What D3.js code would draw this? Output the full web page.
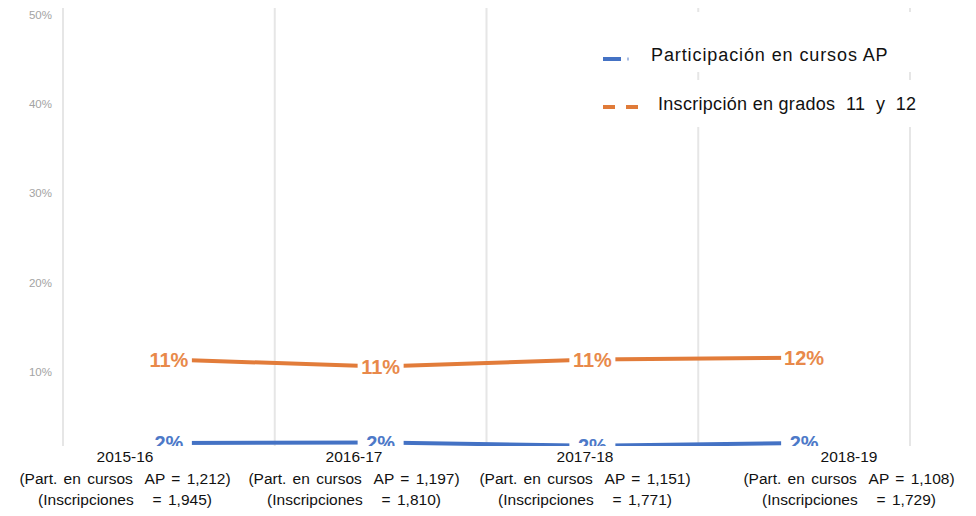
<!DOCTYPE html>
<html><head><meta charset="utf-8">
<script src="https://cdn.jsdelivr.net/npm/d3@7"></script>
<style>body{margin:0;background:#fff}svg{display:block}</style>
</head><body>
<svg id="c" width="976" height="516"></svg>
<script>
const categories = ["2015-16","2016-17","2017-18","2018-19"];
const apCounts = ["1,212","1,197","1,151","1,108"];
const enrollCounts = ["1,945","1,810","1,771","1,729"];
const apParticipation = [0.0205, 0.021, 0.0175, 0.0205];
const enrollment11_12 = [0.114, 0.106, 0.114, 0.116];
const yTicks = [0.1, 0.2, 0.3, 0.4, 0.5];
const seriesNames = ["Participación en cursos AP", "Inscripción en grados  11  y  12"];

const svg = d3.select("#c");
const x = d3.scaleBand().domain(categories).range([63, 910]).padding(0);
const y = d3.scaleLinear().domain([0, 0.5]).range([461.3, 14.7]);
const xLabel = d3.scaleOrdinal().domain(categories).range([125, 354, 585, 849]);
const FONT = "Liberation Sans, Arial, sans-serif";

// vertical gridlines
const gridX = categories.map(c => x(c)).concat([x.range()[1]]);
svg.append("g").selectAll("line").data(gridX).join("line")
  .attr("x1", d => d).attr("x2", d => d).attr("y1", 8).attr("y2", 446)
  .attr("stroke", "#e6e6e6").attr("stroke-width", 2);

// y axis labels
svg.append("g").selectAll("text").data(yTicks).join("text")
  .attr("x", 52).attr("y", d => y(d)).attr("dy", "0.35em")
  .attr("text-anchor", "end").attr("font-family", FONT)
  .attr("font-size", 11.5).attr("fill", "#a3a3a3")
  .text(d => d3.format(".0%")(d));

const series = [
  {name: seriesNames[0], values: apParticipation, color: "#4472C4", label: "#4d79c8"},
  {name: seriesNames[1], values: enrollment11_12, color: "#E27C3A", label: "#E8894A"}
];
const cx = c => x(c) + x.bandwidth() / 2;
const line = d3.line().x((d, i) => cx(categories[i])).y(d => y(d));

series.forEach(s => {
  svg.append("path").datum(s.values).attr("d", line)
    .attr("fill", "none").attr("stroke", s.color).attr("stroke-width", 4);
  const g = svg.append("g").selectAll("g").data(s.values).join("g")
    .attr("transform", (d, i) => `translate(${cx(categories[i])},${y(d)})`);
  g.append("rect").attr("x", -23).attr("y", -12).attr("width", 46).attr("height", 24).attr("fill", "#fff");
  g.append("text").attr("text-anchor", "middle").attr("dy", "0.36em")
    .attr("font-family", FONT).attr("font-weight", "bold")
    .attr("font-size", 20).attr("fill", s.label)
    .text(d => d3.format(".0%")(d));
});

// white cover for the axis label area
svg.append("rect").attr("x", 0).attr("y", 446).attr("width", 976).attr("height", 70).attr("fill", "#fff");

// legend
const legendBoxes = [[588, 12, 345, 60], [588, 80, 345, 47]];
svg.append("g").selectAll("rect").data(legendBoxes).join("rect")
  .attr("x", d => d[0]).attr("y", d => d[1]).attr("width", d => d[2]).attr("height", d => d[3]).attr("fill", "#fff");
const leg = svg.append("g");
leg.append("line").attr("x1", 603).attr("x2", 621).attr("y1", 59).attr("y2", 59)
  .attr("stroke", "#4472C4").attr("stroke-width", 4);
leg.append("line").attr("x1", 627).attr("x2", 629).attr("y1", 59).attr("y2", 59)
  .attr("stroke", "#a9bde3").attr("stroke-width", 3);
leg.append("line").attr("x1", 603).attr("x2", 638).attr("y1", 107).attr("y2", 107)
  .attr("stroke", "#E07B39").attr("stroke-width", 4).attr("stroke-dasharray", "12,11");
leg.append("text").attr("x", 651).attr("y", 61)
  .attr("font-family", FONT).attr("font-size", 18).attr("fill", "#111")
  .attr("letter-spacing", 0.9)
  .style("white-space", "pre").text(seriesNames[0]);
leg.append("text").attr("x", 658).attr("y", 110)
  .attr("font-family", FONT).attr("font-size", 18).attr("fill", "#111")
  .attr("letter-spacing", 0.3)
  .style("white-space", "pre").text(seriesNames[1]);

// x axis labels
const xl = svg.append("g").selectAll("text").data(categories).join("text")
  .attr("text-anchor", "middle")
  .attr("font-family", FONT).attr("font-size", 15.5).attr("fill", "#111")
  .attr("word-spacing", 2)
  .style("white-space", "pre");
xl.append("tspan").attr("x", d => xLabel(d)).attr("y", 462).text(d => d);
xl.append("tspan").attr("x", d => xLabel(d)).attr("y", 484)
  .text((d, i) => `(Part. en cursos  AP = ${apCounts[i]})`);
xl.append("tspan").attr("x", d => xLabel(d)).attr("y", 505)
  .text((d, i) => `(Inscripciones   = ${enrollCounts[i]})`);
</script>
</body></html>
